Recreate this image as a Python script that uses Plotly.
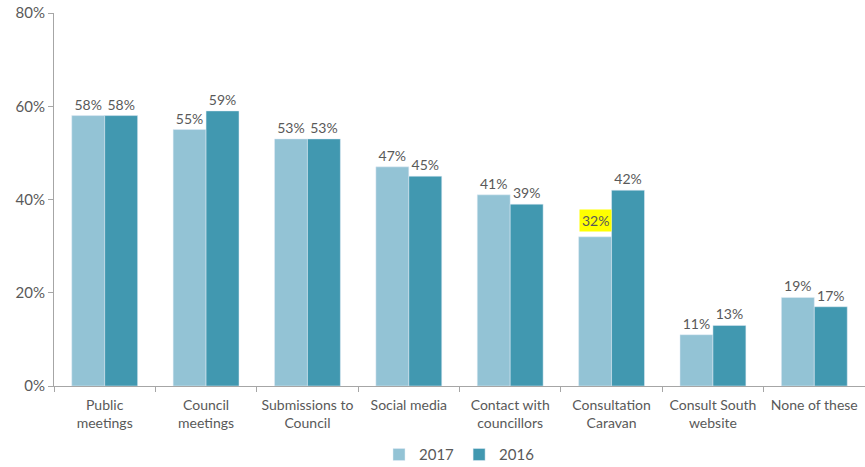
import plotly.graph_objects as go

categories = ["Public<br>meetings", "Council<br>meetings", "Submissions to<br>Council",
              "Social media", "Contact with<br>councillors", "Consultation<br>Caravan",
              "Consult South<br>website", "None of these"]
values_2017 = [58, 55, 53, 47, 41, 32, 11, 19]
values_2016 = [58, 59, 53, 45, 39, 42, 13, 17]
highlight_index = 5  # the 2017 Consultation Caravan label gets a yellow box

font_family = "Lato, sans-serif"
text_color = "#595959"
c2017 = "#93C3D5"
c2016 = "#4198B0"

text_2017 = [f"{v}%" if i != highlight_index else "" for i, v in enumerate(values_2017)]
text_2016 = [f"{v}%" for v in values_2016]

fig = go.Figure()
fig.add_trace(go.Bar(x=categories, y=values_2017, name="2017", marker_color=c2017,
                     text=text_2017, textposition="outside", cliponaxis=False,
                     textfont=dict(size=14, color=text_color)))
fig.add_trace(go.Bar(x=categories, y=values_2016, name="2016", marker_color=c2016,
                     text=text_2016, textposition="outside", cliponaxis=False,
                     textfont=dict(size=14, color=text_color)))

fig.add_annotation(x=categories[highlight_index], y=values_2017[highlight_index],
                   xref="x", yref="y", xshift=-16.5, yshift=5, yanchor="bottom",
                   text=f"{values_2017[highlight_index]}%", showarrow=False,
                   bgcolor="#FFFF00", borderpad=2,
                   font=dict(size=14, color=text_color, family=font_family))

fig.update_layout(
    width=865, height=467,
    margin=dict(l=54, r=0, t=13, b=81, autoexpand=False),
    barmode="group", bargap=0.35, bargroupgap=0,
    plot_bgcolor="white", paper_bgcolor="white",
    font=dict(family=font_family, size=14, color=text_color),
    uniformtext=dict(mode=False),
    legend=dict(orientation="h", x=0.5, xanchor="center", y=-0.14, yanchor="top",
                font=dict(size=15, color=text_color), traceorder="normal",
                itemwidth=30),
    xaxis=dict(showline=True, linecolor="#A6A6A6", linewidth=1, automargin=False,
               ticks="outside", ticklen=5, tickcolor="#A6A6A6", tickangle=0,
               ticklabelstandoff=6,
               tickson="boundaries", tickfont=dict(size=14, color=text_color)),
    yaxis=dict(range=[0, 80], dtick=20, ticksuffix="%", showgrid=False, zeroline=False,
               showline=True, linecolor="#A6A6A6", linewidth=1, automargin=False,
               ticks="outside", ticklen=5, tickcolor="#A6A6A6",
               tickfont=dict(size=15, color=text_color)),
)

fig.write_html("out.html")
